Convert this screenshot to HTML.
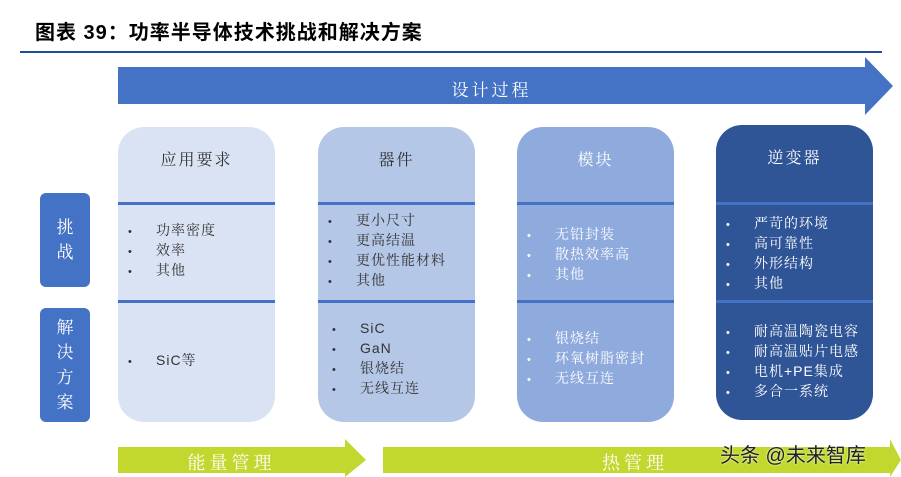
<!DOCTYPE html>
<html><head><meta charset="utf-8"><style>
body{margin:0;width:901px;height:477px;background:#fff;position:relative;overflow:hidden;font-family:"Liberation Sans","Noto Serif CJK SC","Noto Sans CJK SC",sans-serif}
.a{position:absolute}
.col{position:absolute;top:127px;width:157px;height:295px;border-radius:26px;overflow:hidden}
.hd{position:absolute;top:20px;width:100%;text-align:center;font-size:16px;letter-spacing:2px}
.ln{position:absolute;left:0;width:100%;height:3px;background:#4472c4}
ul{position:absolute;margin:0;padding:0;list-style:none;font-size:14px;line-height:18px;letter-spacing:1px;white-space:nowrap}
li:before{content:"•";display:inline-block;width:28px;font-size:11px}
.lab{position:absolute;left:40px;width:50px;background:#4472c4;border-radius:6px;color:#fff;font-size:17px;text-align:center;line-height:25px;display:flex;flex-direction:column;justify-content:center}
</style></head><body>
<div class="a" style="left:35px;top:16px;font-size:20px;font-weight:bold;font-family:'Liberation Sans','Noto Sans CJK SC',sans-serif;letter-spacing:1px">图表 39：功率半导体技术挑战和解决方案</div>
<div class="a" style="left:20px;top:51px;width:862px;height:2px;background:#1f4e99"></div>
<svg class="a" style="left:0;top:0" width="901" height="477">
<polygon points="118,67 865,67 865,57 893,86 865,115 865,104 118,104" fill="#4472c4"/>
<polygon points="118,447 345,447 345,439 366,460 345,477 345,473 118,473" fill="#c3d82e"/>
<polygon points="383,447 890,447 890,439 901,460 890,477 890,473 383,473" fill="#c3d82e"/>
</svg>
<div class="a" style="left:118px;top:76px;width:747px;text-align:center;color:#fff;font-size:17px;letter-spacing:3px">设计过程</div>
<div class="a" style="left:118px;top:449px;width:227px;text-align:center;color:#fff;font-size:18px;letter-spacing:4px">能量管理</div>
<div class="a" style="left:560px;top:449px;width:150px;text-align:center;color:#fff;font-size:18px;letter-spacing:4px">热管理</div>
<div class="a" style="left:720px;top:439px;font-size:20px;color:#222;font-family:'Liberation Sans','Noto Sans CJK SC',sans-serif;text-shadow:0 0 2px #fff">头条 @未来智库</div>
<div class="lab" style="top:193px;height:94px">挑<br>战</div>
<div class="lab" style="top:308px;height:114px">解<br>决<br>方<br>案</div>

<div class="col" style="left:118px;background:#dae3f3;color:#333">
<div class="hd">应用要求</div><div class="ln" style="top:75px"></div><div class="ln" style="top:173px"></div>
<ul style="left:10px;top:94px"><li>功率密度</li><li>效率</li><li>其他</li></ul>
<ul style="left:10px;top:224px"><li>SiC等</li></ul></div>

<div class="col" style="left:318px;background:#b4c7e7;color:#333">
<div class="hd">器件</div><div class="ln" style="top:75px"></div><div class="ln" style="top:173px"></div>
<ul style="left:10px;top:84px"><li>更小尺寸</li><li>更高结温</li><li>更优性能材料</li><li>其他</li></ul>
<ul style="left:14px;top:192px"><li>SiC</li><li>GaN</li><li>银烧结</li><li>无线互连</li></ul></div>

<div class="col" style="left:517px;background:#8faadc;color:#fff">
<div class="hd">模块</div><div class="ln" style="top:75px"></div><div class="ln" style="top:173px"></div>
<ul style="left:10px;top:98px"><li>无铅封装</li><li>散热效率高</li><li>其他</li></ul>
<ul style="left:10px;top:202px"><li>银烧结</li><li>环氧树脂密封</li><li>无线互连</li></ul></div>

<div class="col" style="left:716px;top:125px;background:#2f5597;color:#fff">
<div class="hd">逆变器</div><div class="ln" style="top:77px"></div><div class="ln" style="top:175px"></div>
<ul style="left:10px;top:89px"><li>严苛的环境</li><li>高可靠性</li><li>外形结构</li><li>其他</li></ul>
<ul style="left:10px;top:197px"><li>耐高温陶瓷电容</li><li>耐高温贴片电感</li><li>电机+PE集成</li><li>多合一系统</li></ul></div>
</body></html>
